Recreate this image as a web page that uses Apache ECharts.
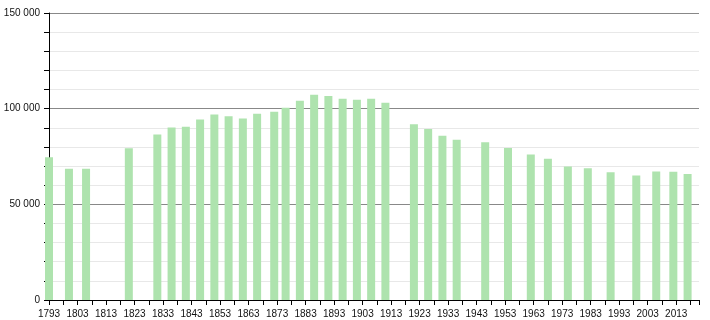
<!DOCTYPE html>
<html>
<head>
<meta charset="utf-8">
<script src="https://cdn.jsdelivr.net/npm/echarts@6/dist/echarts.min.js"></script>
<style>html,body{margin:0;padding:0;background:#fff}#c{width:710px;height:320px}</style>
</head>
<body>
<div id="c"></div>
<script>
var years = [1793,1800,1806,1821,1831,1836,1841,1846,1851,1856,1861,1866,1872,1876,1881,1886,1891,1896,1901,1906,1911,1921,1926,1931,1936,1946,1954,1962,1968,1975,1982,1990,1999,2006,2012,2017];
var population = [74600,68600,68600,79300,86500,90200,90600,94300,96900,96000,94800,97400,98400,100500,104200,107300,106600,105200,104700,105200,103100,91800,89400,85900,83800,82500,79500,76000,73800,69800,68900,66800,65100,67200,67000,65800];
var xMin = 1793, xMax = 2021, xStep = 5, labelStep = 10;
var yMax = 150000, yStep = 10000, yLabelStep = 50000;

var data = years.map(function(y, i){ return [y, population[i]]; });
var chart = echarts.init(document.getElementById('c'), null, {renderer:'canvas'});
function fmt(v){ return String(v).replace(/\B(?=(\d{3})+(?!\d))/g, ' '); }
chart.setOption({
  animation: false,
  grid: {left: 49, right: 11, top: 13, bottom: 20, containLabel: false},
  xAxis: {
    type: 'value', min: xMin, max: xMax, interval: xStep,
    axisLine: {show: true, onZero: false, lineStyle: {color: '#000', width: 1}},
    axisTick: {show: true, length: 5, lineStyle: {color: '#000'}},
    splitLine: {show: false},
    axisLabel: {
      color: '#111', fontFamily: 'Liberation Sans, Arial', fontSize: 10, margin: 9,
      showMinLabel: true, showMaxLabel: true,
      formatter: function(v){ return ((v - xMin) % labelStep === 0) ? String(v) : ''; }
    }
  },
  yAxis: {
    type: 'value', min: 0, max: yMax, interval: yStep,
    axisLine: {show: true, lineStyle: {color: '#000', width: 1}},
    axisTick: {show: true, length: 5, lineStyle: {color: '#000'}},
    axisLabel: {
      color: '#111', fontFamily: 'Liberation Sans, Arial', fontSize: 10, margin: 9,
      formatter: function(v){ return (v % yLabelStep === 0) ? fmt(v) : ''; }
    },
    splitLine: {show: true, lineStyle: {color: ['#888888','#e8e8e8','#e8e8e8','#e8e8e8','#e8e8e8'], width: 1}}
  },
  series: [{
    type: 'bar', data: data, barWidth: 8,
    itemStyle: {color: '#aee3ae'}
  }]
});
</script>
</body>
</html>
